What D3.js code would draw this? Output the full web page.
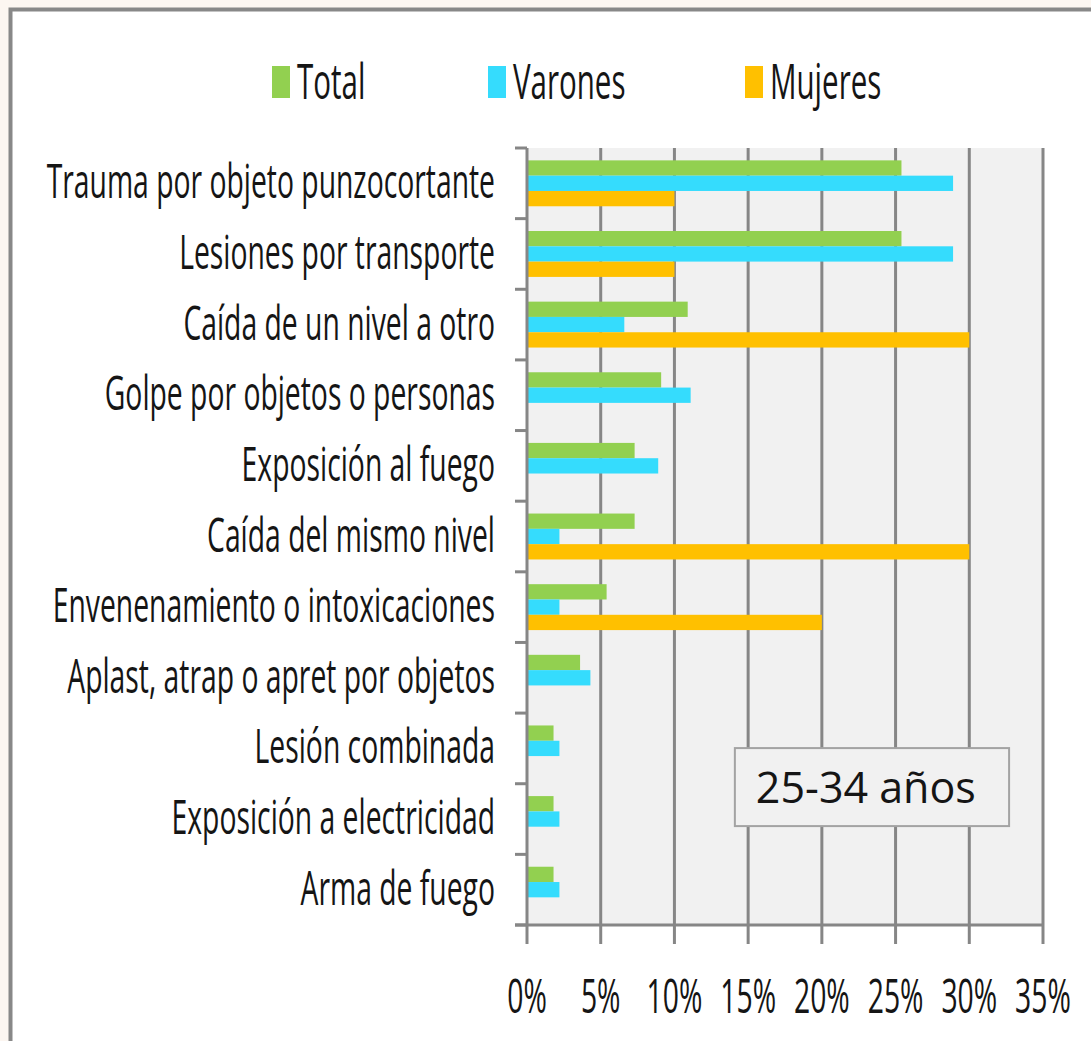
<!DOCTYPE html>
<meta charset="utf-8">
<script src="https://d3js.org/d3.v7.min.js"></script>
<style>
  body { margin: 0; background: #fcf6f1; }
  svg text { font-family: "Open Sans", sans-serif; fill: #151515; }
</style>
<div id="my_dataviz"></div>
<script>

// categories (top to bottom) and series values in %
var categories = [
  "Trauma por objeto punzocortante",
  "Lesiones por transporte",
  "Caída de un nivel a otro",
  "Golpe por objetos o personas",
  "Exposición al fuego",
  "Caída del mismo nivel",
  "Envenenamiento o intoxicaciones",
  "Aplast, atrap o apret por objetos",
  "Lesión combinada",
  "Exposición a electricidad",
  "Arma de fuego"
];
var seriesNames = ["Total", "Varones", "Mujeres"];
var totalValues   = [25.4, 25.4, 10.9, 9.1, 7.3, 7.3, 5.4, 3.6, 1.8, 1.8, 1.8];
var varonesValues = [28.9, 28.9, 6.6, 11.1, 8.9, 2.2, 2.2, 4.3, 2.2, 2.2, 2.2];
var mujeresValues = [10, 10, 30, 0, 0, 30, 20, 0, 0, 0, 0];
var xTicks = [0, 5, 10, 15, 20, 25, 30, 35];
var annotation = "25-34 años";

var colors = ["#92d050", "#35dcfd", "#ffc000"];
var sx = 0.59; // horizontal squeeze for the condensed look

var W = 1091, H = 1041;
var margin = {top: 148, left: 527, right: 48, bottom: 116};
var width = W - margin.left - margin.right,
    height = H - margin.top - margin.bottom;

var data = categories.map(function(c, i) {
  return {cat: c, vals: [totalValues[i], varonesValues[i], mujeresValues[i]]};
});

var svg = d3.select("#my_dataviz")
  .append("svg")
    .attr("width", W)
    .attr("height", H);

// frame
svg.append("rect")
  .attr("x", 10.5).attr("y", 9.5)
  .attr("width", W + 20).attr("height", H + 20)
  .attr("fill", "#fff")
  .attr("stroke", "#888")
  .attr("stroke-width", 4);

var g = svg.append("g")
  .attr("transform", "translate(" + margin.left + "," + margin.top + ")");

var x = d3.scaleLinear().domain([0, 35]).range([0, width]);
var y = d3.scaleBand().domain(categories).range([0, height])
  .paddingInner(0.35).paddingOuter(0.175);
var y1 = d3.scaleBand().domain(seriesNames).range([0, y.bandwidth()]);

// plot background
g.append("rect")
  .attr("width", width).attr("height", height)
  .attr("fill", "#f1f1f1");

// gridlines
g.append("g")
  .selectAll("line")
  .data(xTicks.slice(1))
  .enter()
  .append("line")
    .attr("x1", function(d) { return x(d); })
    .attr("x2", function(d) { return x(d); })
    .attr("y1", 0).attr("y2", height)
    .attr("stroke", "#868686")
    .attr("stroke-width", 3);

// bars
var groups = g.append("g")
  .selectAll("g")
  .data(data)
  .enter()
  .append("g")
    .attr("transform", function(d) { return "translate(0," + y(d.cat) + ")"; });

groups.selectAll("rect")
  .data(function(d) { return d.vals.map(function(v, i) { return {key: seriesNames[i], v: v, i: i}; }); })
  .enter()
  .append("rect")
    .attr("x", 0)
    .attr("y", function(d) { return y1(d.key); })
    .attr("width", function(d) { return x(d.v); })
    .attr("height", y1.bandwidth())
    .attr("fill", function(d) { return colors[d.i]; });

// y axis line + ticks
var step = y.step();
var yTickPos = d3.range(categories.length + 1).map(function(i) { return i * step; });
g.append("line")
  .attr("x1", 0).attr("x2", 0).attr("y1", 0).attr("y2", height)
  .attr("stroke", "#868686").attr("stroke-width", 3);
g.append("g").selectAll("line")
  .data(yTickPos)
  .enter()
  .append("line")
    .attr("x1", -12).attr("x2", 0)
    .attr("y1", function(d) { return d; })
    .attr("y2", function(d) { return d; })
    .attr("stroke", "#868686").attr("stroke-width", 3);

// x axis line + ticks
g.append("line")
  .attr("x1", -12).attr("x2", width).attr("y1", height).attr("y2", height)
  .attr("stroke", "#868686").attr("stroke-width", 3);
g.append("g").selectAll("line")
  .data(xTicks)
  .enter()
  .append("line")
    .attr("x1", function(d) { return x(d); })
    .attr("x2", function(d) { return x(d); })
    .attr("y1", height).attr("y2", height + 19)
    .attr("stroke", "#868686").attr("stroke-width", 3);

// x tick labels
g.append("g").selectAll("text")
  .data(xTicks)
  .enter()
  .append("text")
    .attr("transform", function(d) { return "translate(" + x(d) + "," + (height + 88) + ") scale(" + sx + ",1)"; })
    .attr("text-anchor", "middle")
    .style("font-size", "48px")
    .text(function(d) { return d + "%"; });

// category labels
g.append("g").selectAll("text")
  .data(categories)
  .enter()
  .append("text")
    .attr("transform", function(d) { return "translate(-32," + (y(d) + y.bandwidth() / 2 + 15) + ") scale(" + sx + ",1)"; })
    .attr("text-anchor", "end")
    .style("font-size", "48px")
    .text(function(d) { return d; });

// legend
var legendX = [272, 488, 745];
var legend = svg.append("g").selectAll("g")
  .data(seriesNames)
  .enter()
  .append("g")
    .attr("transform", function(d, i) { return "translate(" + legendX[i] + ",0)"; });
legend.append("rect")
  .attr("x", 0).attr("y", 66)
  .attr("width", 18).attr("height", 32)
  .attr("fill", function(d, i) { return colors[i]; });
legend.append("text")
  .attr("transform", "translate(25,99) scale(" + sx + ",1)")
  .style("font-size", "50px")
  .text(function(d) { return d; });

// annotation box
var box = g.append("g")
  .attr("transform", "translate(" + x(14.1) + "," + (8 * step + 35) + ")");
box.append("rect")
  .attr("width", x(18.6)).attr("height", 78)
  .attr("fill", "#f1f1f1")
  .attr("stroke", "#a3a3a3")
  .attr("stroke-width", 2);
box.append("text")
  .attr("x", 21).attr("y", 55)
  .style("font-size", "43px")
  .text(annotation);

</script>
